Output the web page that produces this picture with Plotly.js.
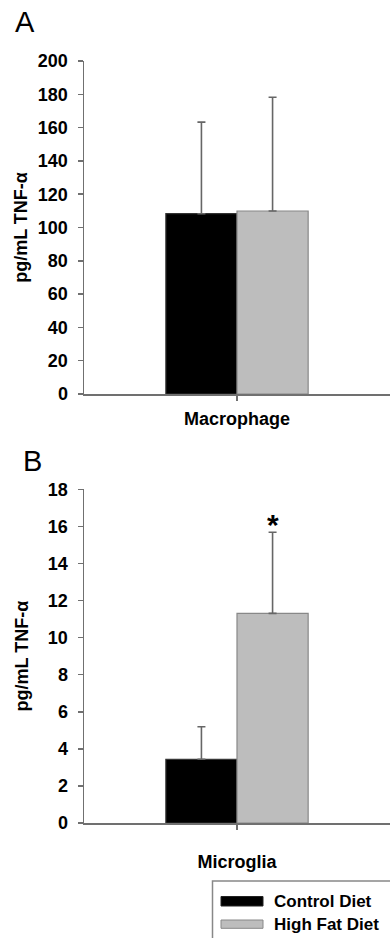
<!DOCTYPE html>
<html>
<head>
<meta charset="utf-8">
<script src="https://cdn.plot.ly/plotly-3.0.1.min.js"></script>
<style>html,body{margin:0;padding:0;background:#fff;}#chart{width:390px;height:938px;}</style>
</head>
<body>
<div id="chart"></div>
<script>
// ---- data ----
const seriesNames = ["Control Diet", "High Fat Diet"];
const categoriesA = ["Macrophage"];
const controlA = [108.3];
const controlErrA = [55.0];
const highFatA = [109.9];
const highFatErrA = [68.3];

const categoriesB = ["Microglia"];
const controlB = [3.44];
const controlErrB = [1.75];
const highFatB = [11.31];
const highFatErrB = [4.37];

const yTitle = "pg/mL TNF-α";
const panelLabels = ["A", "B"];
const sigMark = "*";

// ---- layout helpers ----
const W = 390, H = 938;
const px = x => x / W;
const py = y => 1 - y / H;
const FONT = "Liberation Sans, Arial, sans-serif";
const BARGAP = 0.535;
const black = "#000000", grey = "#bdbdbd";

function barTrace(name, cats, vals, errs, color, line, xa, ya) {
  return {
    type: "bar", name: name, x: cats, y: vals, xaxis: xa, yaxis: ya,
    marker: {color: color, line: {color: line, width: 1.2}},
    error_y: {type: "data", symmetric: false, array: errs, arrayminus: errs.map(() => 0),
              color: "#666", thickness: 1.6, width: 4},
    showlegend: false, hoverinfo: "skip"
  };
}

const data = [
  barTrace(seriesNames[0], categoriesA, controlA, controlErrA, black, "#333", "x", "y"),
  barTrace(seriesNames[1], categoriesA, highFatA, highFatErrA, grey, "#888", "x", "y"),
  barTrace(seriesNames[0], categoriesB, controlB, controlErrB, black, "#333", "x2", "y2"),
  barTrace(seriesNames[1], categoriesB, highFatB, highFatErrB, grey, "#888", "x2", "y2")
];

const tickFont = {family: FONT, size: 18, color: "#000", weight: 700};
const axLine = "#707070";

function xAxis(anchor, standoff) {
  return {
    domain: [px(84), 1], anchor: anchor, type: "category", range: [-0.5, 0.5],
    showline: true, linecolor: axLine, linewidth: 2, ticks: "outside", ticklen: 5,
    tickcolor: axLine, tickwidth: 1.5, showgrid: false, zeroline: false,
    tickfont: tickFont, ticklabelstandoff: standoff, fixedrange: true
  };
}
function yAxis(anchor, top, bottom, max, dtick, standoff) {
  return {
    domain: [py(bottom), py(top)], anchor: anchor, range: [0, max], dtick: dtick,
    showline: true, linecolor: axLine, linewidth: 1.5, ticks: "outside", ticklen: 5,
    tickcolor: axLine, tickwidth: 1.5, showgrid: false, zeroline: false,
    tickfont: tickFont, ticklabelstandoff: 6,
    title: {text: yTitle, font: {family: FONT, size: 18, color: "#000", weight: 700}, standoff: standoff},
    fixedrange: true
  };
}

// gray bar centre offset in category units
const barW = (1 - BARGAP) / 2;
const greyOffset = barW / 2;

const legX0 = 212.5;
const legendItems = [
  {y0: 896.5, y1: 906, color: black, line: "#222", ty: 901},
  {y0: 920, y1: 928.3, color: grey, line: "#888", ty: 924.5}
];

const shapes = [
  {type: "rect", xref: "paper", yref: "paper", x0: px(legX0), x1: px(400), y0: py(881), y1: py(945),
   line: {color: "#888", width: 1.5}, fillcolor: "rgba(0,0,0,0)"}
];
legendItems.forEach(it => shapes.push({
  type: "rect", xref: "paper", yref: "paper", x0: px(221), x1: px(263), y0: py(it.y1), y1: py(it.y0),
  line: {color: it.line, width: 1}, fillcolor: it.color
}));

const annotations = [
  {text: panelLabels[0], xref: "paper", yref: "paper", x: px(13), y: py(22.5), xanchor: "left", yanchor: "middle",
   showarrow: false, font: {family: FONT, size: 29, color: "#000"}},
  {text: panelLabels[1], xref: "paper", yref: "paper", x: px(21), y: py(461), xanchor: "left", yanchor: "middle",
   showarrow: false, font: {family: FONT, size: 29, color: "#000"}},
  {text: sigMark, xref: "x2", yref: "y2", x: greyOffset, y: highFatB[0] + highFatErrB[0], xanchor: "center", yanchor: "bottom",
   yshift: -11, showarrow: false, font: {family: FONT, size: 30, color: "#000", weight: 700}}
];
seriesNames.forEach((n, i) => annotations.push({
  text: n, xref: "paper", yref: "paper", x: px(272), y: py(legendItems[i].ty), xanchor: "left", yanchor: "middle",
  showarrow: false, font: {family: FONT, size: 17, color: "#000", weight: 700}
}));

const layout = {
  width: W, height: H, margin: {l: 0, r: 0, t: 0, b: 0, pad: 0},
  paper_bgcolor: "#fff", plot_bgcolor: "#fff",
  barmode: "group", bargap: BARGAP, bargroupgap: 0,
  showlegend: false,
  xaxis: xAxis("y", 2),
  yaxis: yAxis("x", 61, 394, 200, 20, 5),
  xaxis2: xAxis("y2", 16),
  yaxis2: yAxis("x2", 489.3, 823, 18, 2, 14),
  shapes: shapes,
  annotations: annotations
};

Plotly.newPlot("chart", data, layout, {displayModeBar: false, staticPlot: true});
</script>
</body>
</html>
